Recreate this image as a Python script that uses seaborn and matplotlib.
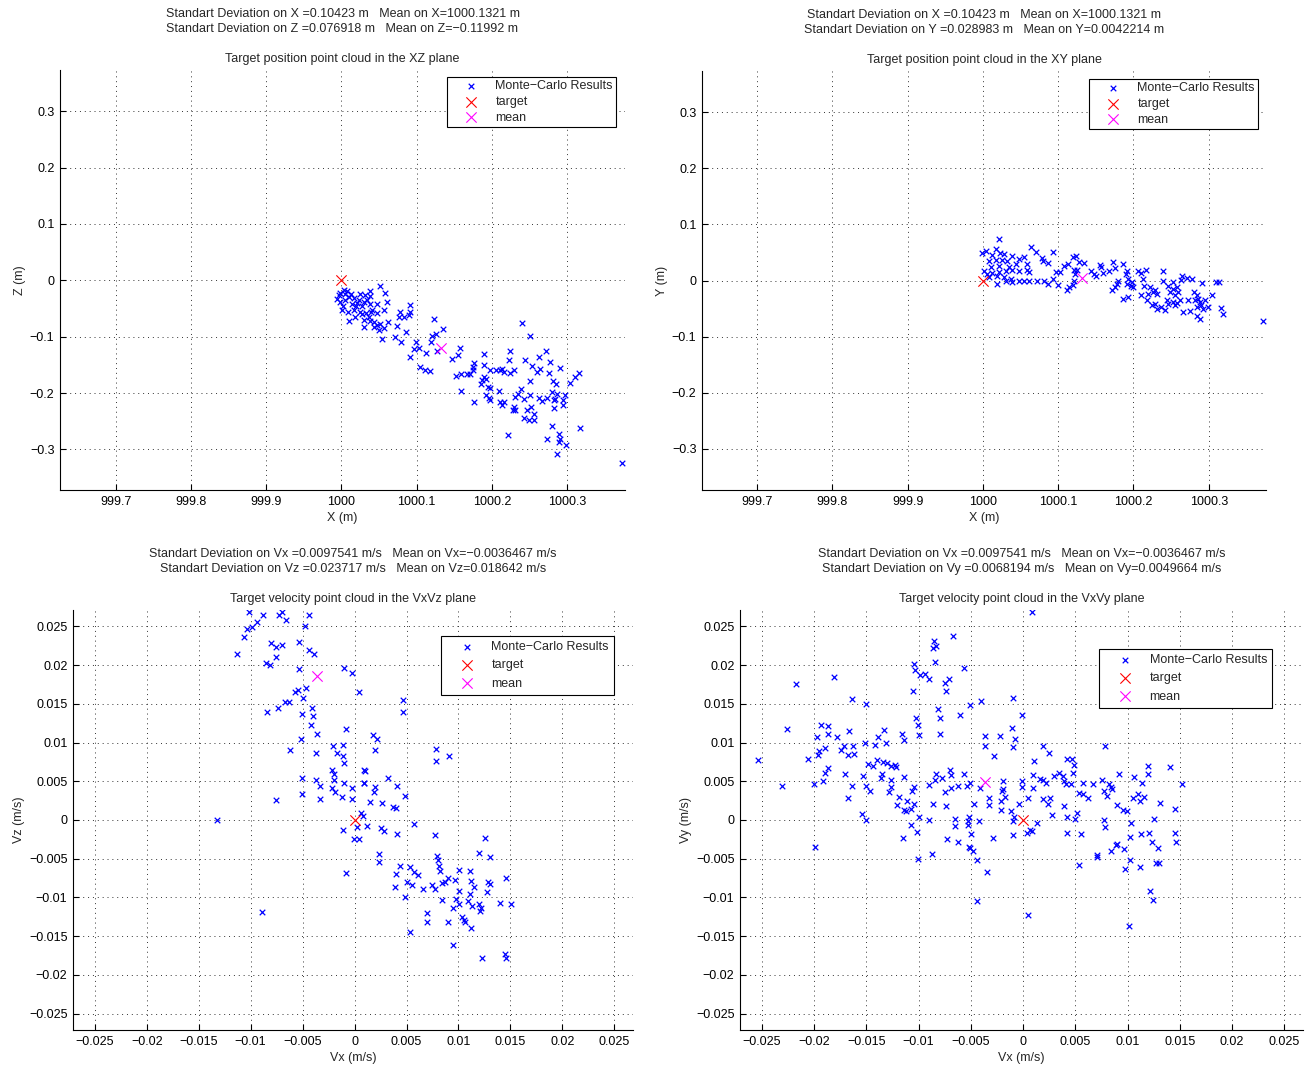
import numpy as np
import matplotlib
matplotlib.use("Agg")
import matplotlib.pyplot as plt
from matplotlib.ticker import FixedLocator, FuncFormatter
import seaborn as sns

# ---------------- data: XZ plane (m) ----------------
XZ_X = [1000.0031, 999.9987, 1000.0075, 1000.0129, 999.9978, 1000.0053, 1000.0098, 1000.0173, 1000.0253, 1000.0208,
        1000.0297, 1000.0341, 1000.0142, 1000.0199, 1000.0275, 1000.0377, 1000.0386, 1000.0377, 1000.0009, 1000.0084,
        1000.0244, 1000.0332, 1000.0395, 1000.0474, 1000.0297, 1000.0377, 1000.0430, 1000.0510, 1000.0616, 1000.0474,
        1000.0098, 1000.0306, 1000.0496, 1000.0572, 1000.0022, 1000.0164, 1000.0519, 1000.0576, 1000.0607, 1000.0563,
        1000.0474, 1000.0918, 1000.0918, 1000.0776, 1000.0762, 1000.0838, 1000.0900, 1000.0740, 1000.0864, 1000.0541,
        1000.0709, 1000.0793, 1000.0997, 1000.0962, 1000.1028, 1000.1121, 1000.0918, 1000.1050, 1000.1117, 1000.1175,
        999.9965, 1000.0053, 1000.0230, 999.9942, 1000.0319, 1000.0275, 1000.0363, 1000.0408, 1000.0186, 1000.0430,
        1000.1228, 1000.1348, 1000.1206, 1000.1263, 1000.1193, 1000.1272, 1000.1582, 1000.1555, 1000.1472, 1000.1525,
        1000.1591, 1000.1671, 1000.1596, 1000.1762, 1000.1743, 1000.1751, 1000.1715, 1000.1893, 1000.1893, 1000.1972,
        1000.1870, 1000.1893, 1000.1928, 1000.1857, 1000.1946, 1000.1981, 1000.1768, 1000.1928, 1000.1959, 1000.1972,
        1000.2092, 1000.2061, 1000.2114, 1000.2158, 1000.2136, 1000.2225, 1000.2247, 1000.2238, 1000.2300, 1000.2402,
        1000.2513, 1000.2446, 1000.2535, 1000.2601, 1000.2637, 1000.2623, 1000.2721, 1000.2770, 1000.2903, 1000.2761,
        1000.2814, 1000.2849, 1000.2513, 1000.2389, 1000.2344, 1000.2313, 1000.2424, 1000.2504, 1000.2623, 1000.2668,
        1000.2734, 1000.2801, 1000.2867, 1000.2845, 1000.2832, 1000.2947, 1000.2978, 1000.2942, 1000.2823, 1000.2114,
        1000.2167, 1000.2136, 1000.2291, 1000.2282, 1000.2313, 1000.2468, 1000.2522, 1000.2557, 1000.2490, 1000.2424,
        1000.2566, 1000.2801, 1000.3177, 1000.2211, 1000.2734, 1000.2889, 1000.2903, 1000.2889, 1000.2991, 1000.2867,
        1000.3044, 1000.3111, 1000.3155, 1000.3731]
XZ_Z = [-0.0165, -0.0225, -0.0189, -0.0248, -0.0384, -0.0343, -0.0296, -0.0307, -0.0248, -0.0402,
        -0.0384, -0.0343, -0.0414, -0.0461, -0.0461, -0.0414, -0.0284, -0.0189, -0.0520, -0.0561,
        -0.0561, -0.0579, -0.0561, -0.0579, -0.0697, -0.0721, -0.0739, -0.0768, -0.0739, -0.0798,
        -0.0721, -0.0827, -0.0887, -0.0839, -0.0461, -0.0532, -0.0106, -0.0225, -0.0384, -0.0532,
        -0.0414, -0.0431, -0.0561, -0.0561, -0.0650, -0.0650, -0.0609, -0.0816, -0.0922, -0.1034,
        -0.1005, -0.1087, -0.1093, -0.1223, -0.1194, -0.1282, -0.1359, -0.1537, -0.1596, -0.1613,
        -0.0266, -0.0248, -0.0343, -0.0325, -0.0266, -0.0603, -0.0650, -0.0520, -0.0650, -0.0827,
        -0.0692, -0.0869, -0.0993, -0.0946, -0.1093, -0.1253, -0.1194, -0.1330, -0.1389, -0.1702,
        -0.1667, -0.1667, -0.1968, -0.1468, -0.1537, -0.1596, -0.1667, -0.1300, -0.1507, -0.1596,
        -0.1773, -0.1714, -0.1744, -0.1844, -0.1891, -0.1903, -0.2157, -0.2039, -0.2080, -0.2128,
        -0.1968, -0.1584, -0.1596, -0.1625, -0.1566, -0.1419, -0.1253, -0.1643, -0.1584, -0.0757,
        -0.0987, -0.1407, -0.1525, -0.1625, -0.1566, -0.1359, -0.1253, -0.1448, -0.1549, -0.1643,
        -0.1785, -0.1844, -0.1785, -0.1933, -0.2021, -0.2069, -0.2098, -0.2039, -0.2080, -0.2140,
        -0.2080, -0.1980, -0.2010, -0.2098, -0.2128, -0.2116, -0.2039, -0.2216, -0.2264, -0.2157,
        -0.2157, -0.2216, -0.2246, -0.2305, -0.2293, -0.2305, -0.2246, -0.2376, -0.2482, -0.2441,
        -0.2482, -0.2589, -0.2612, -0.2736, -0.2807, -0.2719, -0.2807, -0.2866, -0.2926, -0.3085,
        -0.1820, -0.1714, -0.1643, -0.3239]

# ---------------- data: XY plane (m) ----------------
XY_X = [1000.0212, 999.9982, 1000.0044, 1000.0168, 1000.0124, 1000.0230, 1000.0274, 1000.0389, 1000.0080, 1000.0168,
        1000.0257, 1000.0323, 1000.0478, 1000.0544, 1000.0633, 1000.0699, 1000.0580, 1000.0434, 1000.0345, 1000.0212,
        1000.0102, 1000.0013, 1000.0049, 1000.0124, 1000.0212, 1000.0301, 1000.0389, 1000.0478, 1000.0588, 1000.0610,
        1000.0080, 1000.0190, 1000.0279, 1000.0367, 1000.0190, 1000.0301, 1000.0389, 1000.0478, 1000.0544, 1000.0610,
        1000.0721, 1000.0810, 1000.0867, 1000.0929, 1000.0779, 1000.0796, 1000.0867, 1000.0929, 1000.0965, 1000.1018,
        1000.1000, 1000.1075, 1000.1133, 1000.1195, 1000.1240, 1000.1274, 1000.1341, 1000.1208, 1000.1252, 1000.1230,
        1000.1208, 1000.1195, 1000.1120, 1000.1142, 1000.1434, 1000.1478, 1000.1509, 1000.1553, 1000.1566, 1000.1597,
        1000.1730, 1000.1752, 1000.1681, 1000.1867, 1000.1796, 1000.1783, 1000.1761, 1000.1717, 1000.1867, 1000.1908,
        1000.1900, 1000.1930, 1000.1917, 1000.1975, 1000.1961, 1000.1997, 1000.1930, 1000.2063, 1000.2094, 1000.2165,
        1000.2130, 1000.2138, 1000.2094, 1000.2174, 1000.2196, 1000.2218, 1000.2262, 1000.2284, 1000.2307, 1000.2240,
        1000.2284, 1000.2307, 1000.2360, 1000.2395, 1000.2386, 1000.2417, 1000.2462, 1000.2484, 1000.2440, 1000.2519,
        1000.2528, 1000.2572, 1000.2594, 1000.2550, 1000.2519, 1000.2462, 1000.2550, 1000.2581, 1000.2639, 1000.2625,
        1000.2714, 1000.2771, 1000.2616, 1000.2661, 1000.2750, 1000.2802, 1000.2838, 1000.2860, 1000.2816, 1000.2727,
        1000.2882, 1000.2949, 1000.2895, 1000.2838, 1000.2926, 1000.2993, 1000.2838, 1000.2882, 1000.2904, 1000.3037,
        1000.3095, 1000.3139, 1000.3161, 1000.3183, 1000.3723]
XY_Y = [0.0738, 0.0484, 0.0519, 0.0560, 0.0460, 0.0484, 0.0472, 0.0443, 0.0354, 0.0366,
        0.0366, 0.0342, 0.0384, 0.0413, 0.0590, 0.0502, 0.0295, 0.0295, 0.0248, 0.0265,
        0.0236, 0.0177, 0.0118, 0.0130, 0.0148, 0.0177, 0.0189, 0.0177, 0.0189, 0.0148,
        0.0059, 0.0089, 0.0059, 0.0030, -0.0059, 0.0000, -0.0030, -0.0012, 0.0000, -0.0012,
        -0.0012, 0.0000, -0.0071, 0.0029, 0.0401, 0.0342, 0.0307, 0.0502, 0.0148, 0.0148,
        -0.0088, 0.0265, 0.0295, 0.0413, 0.0443, 0.0336, 0.0307, 0.0189, 0.0189, 0.0118,
        0.0000, -0.0088, -0.0177, -0.0118, 0.0177, 0.0118, 0.0089, 0.0279, 0.0236, 0.0130,
        0.0325, 0.0224, 0.0177, 0.0295, 0.0000, -0.0059, -0.0118, -0.0165, -0.0325, 0.0177,
        0.0118, 0.0030, -0.0059, -0.0030, -0.0106, -0.0118, -0.0295, 0.0177, 0.0130, 0.0189,
        0.0030, -0.0106, -0.0265, -0.0354, -0.0236, -0.0118, -0.0207, -0.0165, -0.0236, -0.0443,
        -0.0413, -0.0502, -0.0472, 0.0177, -0.0012, -0.0530, -0.0106, -0.0207, -0.0354, -0.0030,
        -0.0148, -0.0118, -0.0207, -0.0265, -0.0384, -0.0413, -0.0443, -0.0401, 0.0089, 0.0012,
        0.0047, 0.0030, -0.0354, -0.0560, -0.0543, -0.0207, -0.0265, -0.0325, -0.0354, -0.0354,
        -0.0384, -0.0354, -0.0443, -0.0472, -0.0502, -0.0472, -0.0637, -0.0678, -0.0047, -0.0265,
        -0.0024, -0.0024, -0.0484, -0.0590, -0.0720]

# ---------------- data: VxVz plane (m/s) ----------------
VXZ_X = [-0.0102, -0.00885, -0.0073, -0.0070, -0.0066, -0.0044, -0.0094, -0.0099, -0.0104, -0.0106,
         -0.0048, -0.0080, -0.0076, -0.0070, -0.0053, -0.0113, -0.0076, -0.0044, -0.0039, -0.0085,
         -0.0081, -0.0053, -0.00106, -0.00026, 0.00038, -0.0057, -0.0054, -0.0047, -0.0050, -0.0067,
         -0.0063, -0.0074, -0.0084, -0.0051, -0.0041, -0.0040, -0.0042, -0.0036, -0.0008, -0.0052,
         -0.00625, -0.0037, -0.0021, -0.00115, -0.0017, -0.00115, -0.00106, -0.0022, -0.0020, 0.00087,
         -0.0051, -0.0037, -0.0020, -0.00106, 0.00087, -0.0033, -0.0022, -0.0019, -0.0002, -0.0051,
         -0.0012, -0.0033, -0.00026, -0.0076,
         0.00465, 0.00465, 0.00176, 0.00218, 0.00199, 0.0078, 0.0078, 0.00907, 0.00096, 0.0032,
         0.00087, 0.00192, 0.00186, 0.0041, 0.00487, 0.0015, 0.0026, 0.0037, 0.00396, 0.00058,
         0.0008, 0.0012, 0.00022, -0.0011, 0.00256, 0.00288, 0.0041, 0.0057, -0.0001, 0.00042,
         0.00776, 0.0126, 0.01195, 0.0130, 0.00234, 0.00234, 0.0079, 0.0080, 0.0081, 0.0082,
         0.0044, 0.0053, 0.0040, 0.0057, 0.0061, 0.00506, 0.0055, 0.00385, 0.0066, 0.0075,
         0.0077, 0.0084, 0.0087, 0.0090, 0.0097, 0.0101, 0.0111, 0.0112, 0.0115, 0.0128,
         0.0130, 0.0146, -0.00087, 0.0101, 0.0111, 0.0127, 0.00484, 0.0084, 0.0098, 0.0101,
         0.0095, 0.0109, 0.0113, 0.0120, 0.0122, 0.0121, 0.0140, 0.0151, 0.0070, 0.0070,
         0.0103, 0.0105, 0.0106, 0.01125, 0.0090, 0.00535, 0.0095, 0.0123, 0.0145, 0.0146,
         -0.0132, -0.0089]
VXZ_Z = [0.0268, 0.0264, 0.0265, 0.0269, 0.0258, 0.0265, 0.0256, 0.0249, 0.0247, 0.0236,
         0.0250, 0.0228, 0.0223, 0.0226, 0.0230, 0.0214, 0.0210, 0.0219, 0.0214, 0.0203,
         0.0200, 0.0195, 0.0196, 0.0190, 0.0165, 0.0165, 0.0168, 0.0170, 0.0158, 0.0152,
         0.0152, 0.0145, 0.01395, 0.0137, 0.0144, 0.0134, 0.0122, 0.0111, 0.0117, 0.0105,
         0.0090, 0.0087, 0.0095, 0.0097, 0.0086, 0.0083, 0.0073, 0.0064, 0.0060, 0.0064,
         0.0054, 0.0052, 0.0052, 0.0048, 0.0048, 0.0044, 0.0041, 0.00365, 0.0041, 0.0033,
         0.0030, 0.0027, 0.0027, 0.0026,
         0.01546, 0.01396, 0.01095, 0.0104, 0.0090, 0.0091, 0.0076, 0.0082, 0.0063, 0.0054,
         0.0048, 0.0043, 0.00356, 0.0044, 0.0031, 0.00236, 0.0022, 0.0017, 0.0015, 0.00085,
         0.00056, -0.00073, -0.00086, -0.0013, -0.0010, -0.0014, -0.00185, -0.00052, -0.0024, -0.0024,
         -0.0019, -0.0023, -0.0042, -0.0048, -0.0044, -0.0054, -0.0046, -0.0051, -0.0059, -0.0066,
         -0.0059, -0.0061, -0.0070, -0.00675, -0.0071, -0.00795, -0.0084, -0.0087, -0.0089, -0.0084,
         -0.00885, -0.0081, -0.00795, -0.0075, -0.0077, -0.0064, -0.0066, -0.0079, -0.0086, -0.0080,
         -0.0082, -0.0075, -0.0069, -0.0092, -0.0096, -0.0093, -0.0099, -0.0103, -0.0102, -0.0108,
         -0.0113, -0.0105, -0.0111, -0.0108, -0.0114, -0.0118, -0.0107, -0.0108, -0.0120, -0.0131,
         -0.0125, -0.0129, -0.0132, -0.0140, -0.0132, -0.0145, -0.0161, -0.0178, -0.0173, -0.0178,
         0.0000, -0.0119]

# ---------------- data: VxVy plane (m/s) ----------------
VXY_X = [-0.02175, -0.0181, -0.0164, -0.0150, -0.0226, -0.0193, -0.01865, -0.01865, -0.0197, -0.0178,
         -0.0167, -0.0190, -0.0195, -0.0196, -0.0174, -0.0171, -0.0163, -0.0168, -0.0162, -0.0151,
         -0.0142, -0.0139, -0.0133, -0.0131, -0.0116, -0.0114, -0.0254, -0.0206, -0.0187, -0.0190,
         -0.0192, -0.0170, -0.0153, -0.0148, -0.0144, -0.0140, -0.0134, -0.0130, -0.0126, -0.0123,
         -0.0122, -0.0135, -0.0136, -0.0126, -0.0126, -0.0128, -0.0114, -0.0231, -0.0200, -0.0164,
         -0.0150, -0.0147, -0.0168, -0.0119, -0.0121, -0.0114, -0.0154, -0.0150, -0.0115, -0.0199,
         0.00083, -0.00675, -0.0085, -0.0086, -0.0083, -0.0084, -0.01045, -0.01035, -0.0099, -0.0094,
         -0.0090, -0.0071, -0.0075, -0.0074, -0.0105, -0.00565, -0.0051, -0.00405, -0.0010, -0.0081,
         -0.00795, -0.0060, -0.00013, -0.01025, -0.0101, -0.0100, -0.00795, -0.0011, -0.0036, -0.0022,
         -0.0008, -0.0036, -0.0010, -0.00275, 0.0010, -0.0083, -0.0084, -0.0078, -0.0070, -0.0069,
         -0.00565, -0.0090, -0.01045, -0.0106, -0.0075, -0.0069, -0.0062, -0.0054, -0.0051, -0.0041,
         -0.00195, -0.00195, -0.00205, -0.0017, -0.00013, -0.00013, 0.00093, 0.00093, 0.0005, -0.00035,
         -0.00215, -0.0111, -0.01045, -0.0107, -0.0112, -0.0086, -0.0074, -0.0047, -0.0033, -0.0033,
         -0.00215, -0.0012, -0.0009, -0.0010, -0.00995, -0.0090, -0.0065, -0.0065, -0.0052, -0.0053,
         -0.0053, -0.0042, -0.0107, -0.0102, -0.0073, -0.0062, -0.0050, -0.0052, -0.0051, -0.0048,
         -0.0087, -0.0101, -0.0044, -0.0029, -0.0035, -0.0010, 0.00035, 0.00067, 0.00086, 0.0013,
         -0.0044, 0.0005,
         0.00195, 0.0025, 0.00425, 0.0047, 0.0049, 0.00476, 0.00786, 0.00914, 0.0120, 0.0120,
         0.0141, 0.00297, 0.0034, 0.0038, 0.00163, 0.00188, 0.0022, 0.00393, 0.00412, 0.00457,
         0.00578, 0.00668, 0.00754, 0.00818, 0.0084, 0.0085, 0.00776, 0.0080, 0.0054, 0.00578,
         0.00626, 0.01064, 0.01137, 0.01057, 0.01105, 0.0112, 0.0116, 0.0152, 0.0131, 0.0145,
         0.00195, 0.0026, 0.00243, 0.00393, 0.00275, 0.00418, 0.00514, 0.00498, 0.00904, 0.0096,
         0.00994, 0.00776, 0.00786, 0.0103, 0.01255, 0.00418, 0.00556, 0.0102, 0.0113, 0.0121,
         0.01457, 0.01463, 0.01233, 0.0129, 0.0089, 0.00904, 0.0084, 0.00968, 0.00706, 0.00706,
         0.0102, 0.00977, 0.0112, 0.01275, 0.0130, 0.01217, 0.0124, 0.0054, 0.0101]
VXY_Y = [0.0176, 0.0184, 0.01565, 0.0150, 0.0117, 0.0123, 0.0121, 0.0111, 0.01065, 0.0107,
         0.0115, 0.00935, 0.0089, 0.0084, 0.00905, 0.0095, 0.0096, 0.0084, 0.0085, 0.0099,
         0.0097, 0.0107, 0.0116, 0.0100, 0.0111, 0.01035, 0.00775, 0.00785, 0.0067, 0.0061,
         0.0050, 0.0060, 0.0057, 0.0072, 0.0070, 0.0077, 0.0075, 0.0073, 0.0070, 0.0071,
         0.0069, 0.0059, 0.0054, 0.0051, 0.0043, 0.0036, 0.0056, 0.0044, 0.0046, 0.0044,
         0.0044, 0.0037, 0.0029, 0.0030, 0.0020, 0.0013, 0.00076, 0.0000, -0.0023, -0.0035,
         0.0269, 0.02375, 0.0231, 0.0222, 0.0225, 0.0204, 0.0201, 0.0194, 0.0187, 0.0189,
         0.0182, 0.0182, 0.0177, 0.0167, 0.0167, 0.0196, 0.0148, 0.0153, 0.0157, 0.0143,
         0.0132, 0.0136, 0.0135, 0.0132, 0.0122, 0.0110, 0.01105, 0.0119, 0.0109, 0.0108,
         0.0104, 0.0095, 0.0094, 0.0082, 0.00765, 0.0060, 0.0052, 0.0054, 0.0065, 0.0058,
         0.0059, 0.0045, 0.0043, 0.0038, 0.0036, 0.0041, 0.0044, 0.00445, 0.00475, 0.0041,
         0.00505, 0.0040, 0.0037, 0.0030, 0.00505, 0.0042, 0.0041, 0.0058, 0.0029, 0.0021,
         0.0024, 0.0024, 0.0021, 0.0014, 0.0012, 0.0021, 0.0018, 0.0021, 0.0029, 0.0020,
         0.0013, 0.0012, 0.00044, -0.0001, 0.0004, 0.0000, 0.0001, -0.0008, 0.00044, -0.0001,
         -0.00065, -0.0001, -0.00065, -0.0016, -0.0024, -0.0029, -0.00185, -0.00345, -0.00365, -0.00397,
         -0.0044, -0.0050, -0.0052, -0.0023, -0.0067, -0.00195, -0.0017, -0.0013, -0.0014, -0.00035,
         -0.0105, -0.0123,
         0.0096, 0.0086, 0.00785, 0.00785, 0.0071, 0.0061, 0.0095, 0.00595, 0.0070, 0.00595,
         0.0068, 0.0057, 0.0061, 0.0057, 0.0053, 0.0052, 0.0048, 0.00497, 0.0047, 0.0046,
         0.0048, 0.0046, 0.0052, 0.0047, 0.0043, 0.0040, 0.00375, 0.0031, 0.0035, 0.0034,
         0.0029, 0.0056, 0.00475, 0.0029, 0.0034, 0.0025, 0.0030, 0.0046, 0.0022, 0.0014,
         0.0027, 0.0028, 0.0021, 0.0018, 0.00064, 0.00034, 0.00095, 0.00008, 0.0019, 0.0013,
         0.0012, 0.0000, -0.00086, -0.00035, 0.00013, -0.00173, -0.0018, -0.00225, -0.0018, -0.00173,
         -0.00173, -0.0029, -0.0028, -0.0036, -0.00324, -0.00316, -0.0040, -0.0037, -0.0045, -0.00475,
         -0.0052, -0.0063, -0.00605, -0.0055, -0.0056, -0.0092, -0.0103, -0.00583, -0.0137]

# targets and means
TARGET_XZ = (1000.0, 0.0)
MEAN_XZ = (1000.1321, -0.11992)
TARGET_XY = (1000.0, 0.0)
MEAN_XY = (1000.1321, 0.0042214)
TARGET_VXZ = (0.0, 0.0)
MEAN_VXZ = (-0.0036467, 0.018642)
TARGET_VXY = (0.0, 0.0)
MEAN_VXY = (-0.0036467, 0.0049664)

# tick values
POS_XTICKS = [999.7, 999.8, 999.9, 1000.0, 1000.1, 1000.2, 1000.3]
POS_YTICKS = [-0.3, -0.2, -0.1, 0.0, 0.1, 0.2, 0.3]
VEL_TICKS = [-0.025, -0.02, -0.015, -0.01, -0.005, 0.0, 0.005, 0.01, 0.015, 0.02, 0.025]

LEGEND_LABELS = ["Monte\u2212Carlo Results", "target", "mean"]

TITLES = [
    "Standart Deviation on X =0.10423 m   Mean on X=1000.1321 m\n"
    "Standart Deviation on Z =0.076918 m   Mean on Z=\u22120.11992 m\n\n"
    "Target position point cloud in the XZ plane",
    "Standart Deviation on X =0.10423 m   Mean on X=1000.1321 m\n"
    "Standart Deviation on Y =0.028983 m   Mean on Y=0.0042214 m\n\n"
    "Target position point cloud in the XY plane",
    "Standart Deviation on Vx =0.0097541 m/s   Mean on Vx=\u22120.0036467 m/s\n"
    "Standart Deviation on Vz =0.023717 m/s   Mean on Vz=0.018642 m/s\n\n"
    "Target velocity point cloud in the VxVz plane",
    "Standart Deviation on Vx =0.0097541 m/s   Mean on Vx=\u22120.0036467 m/s\n"
    "Standart Deviation on Vy =0.0068194 m/s   Mean on Vy=0.0049664 m/s\n\n"
    "Target velocity point cloud in the VxVy plane",
]

# ---------------- style ----------------
sns.set_theme(style="white")
plt.rcParams["font.family"] = ["Liberation Sans", "DejaVu Sans"]
plt.rcParams["axes.unicode_minus"] = True
FS = 9

W, H = 1307, 1065
fig = plt.figure(figsize=(W / 100, H / 100), dpi=100)
fig.patch.set_facecolor("white")


def px_axes(left, top, right, bottom):
    return fig.add_axes([left / W, 1 - bottom / H, (right - left) / W, (bottom - top) / H])


def fmt(v, pos):
    s = "%g" % round(v, 6)
    return s.replace("-", "\u2212")


def panel(ax, xs, ys, target, mean, xlim, ylim, xticks, yticks, xlabel, ylabel, title,
          leg_anchor, leg_spacing, leg_pad):
    sns.scatterplot(x=xs, y=ys, ax=ax, marker="x", color="#0000ff", s=16, linewidth=0.9,
                    label=LEGEND_LABELS[0], zorder=3)
    sns.scatterplot(x=[target[0]], y=[target[1]], ax=ax, marker="x", color="#ff0000", s=55,
                    linewidth=0.8, label=LEGEND_LABELS[1], zorder=4)
    sns.scatterplot(x=[mean[0]], y=[mean[1]], ax=ax, marker="x", color="#ff00ff", s=55,
                    linewidth=0.8, label=LEGEND_LABELS[2], zorder=4)
    ax.set_xlim(*xlim)
    ax.set_ylim(*ylim)
    ax.xaxis.set_major_locator(FixedLocator(xticks))
    ax.yaxis.set_major_locator(FixedLocator(yticks))
    ax.xaxis.set_major_formatter(FuncFormatter(fmt))
    ax.yaxis.set_major_formatter(FuncFormatter(fmt))
    ax.grid(True, color="0.2", linestyle=(0, (1, 4)), linewidth=0.7)
    ax.set_axisbelow(True)
    for side in ("top", "right"):
        ax.spines[side].set_visible(False)
    for side in ("left", "bottom"):
        ax.spines[side].set_color("black")
        ax.spines[side].set_linewidth(0.8)
    ax.tick_params(direction="in", length=4, width=0.8, colors="black", labelsize=FS,
                   left=True, bottom=True, top=False, right=False, pad=4)
    ax.set_xlabel(xlabel, fontsize=FS, labelpad=3.5)
    ax.set_ylabel(ylabel, fontsize=FS, labelpad=2.5)
    ax.set_title(title, fontsize=FS, linespacing=1.33, pad=6)
    leg = ax.legend(loc="upper right", bbox_to_anchor=leg_anchor, fontsize=FS, frameon=True,
                    fancybox=False, edgecolor="black", framealpha=1, borderpad=leg_pad,
                    handlelength=3.4, handletextpad=0.25, labelspacing=leg_spacing,
                    borderaxespad=0.0, scatterpoints=1)
    leg.get_frame().set_linewidth(0.8)


ax1 = px_axes(60, 70, 625, 490)
panel(ax1, XZ_X, XZ_Z, TARGET_XZ, MEAN_XZ, (999.626, 1000.377), (-0.372, 0.373),
      POS_XTICKS, POS_YTICKS, "X (m)", "Z (m)", TITLES[0], (0.984, 0.983), 0.3, 0.25)

ax2 = px_axes(702, 71, 1266, 490)
panel(ax2, XY_X, XY_Y, TARGET_XY, MEAN_XY, (999.627, 1000.376), (-0.373, 0.373),
      POS_XTICKS, POS_YTICKS, "X (m)", "Y (m)", TITLES[1], (0.986, 0.981), 0.3, 0.25)

ax3 = px_axes(73, 610, 633, 1030)
panel(ax3, VXZ_X, VXZ_Z, TARGET_VXZ, MEAN_VXZ, (-0.0271, 0.0268), (-0.0271, 0.0271),
      VEL_TICKS, VEL_TICKS, "Vx (m/s)", "Vz (m/s)", TITLES[2], (0.966, 0.938), 0.5, 0.4)

ax4 = px_axes(740, 610, 1303, 1030)
panel(ax4, VXY_X, VXY_Y, TARGET_VXY, MEAN_VXY, (-0.0271, 0.0268), (-0.0271, 0.0271),
      VEL_TICKS, VEL_TICKS, "Vx (m/s)", "Vy (m/s)", TITLES[3], (0.945, 0.907), 0.5, 0.4)

fig.savefig("out.png", dpi=100, facecolor="white")
